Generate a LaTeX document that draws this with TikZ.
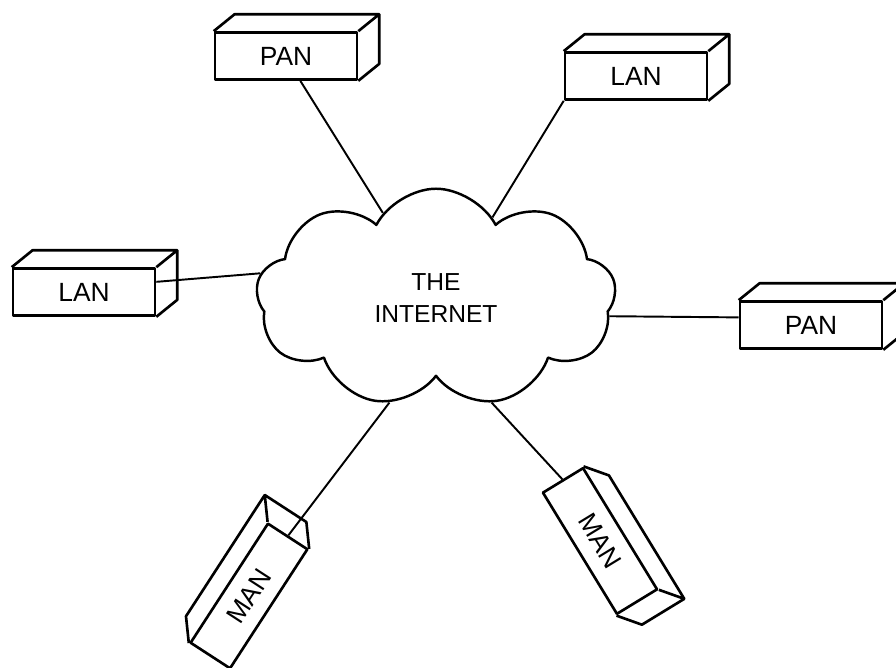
\documentclass[tikz,border=0pt]{standalone}
\usepackage{fontspec}
\setmainfont{Liberation Sans}
\usetikzlibrary{shapes.symbols,calc}

\begin{document}
\begin{tikzpicture}[x=0.02cm,y=-0.02cm,line join=round,
  netbox/.style={draw, fill=white, line width=1.5pt,
    minimum width=2.84cm, minimum height=0.94cm, inner sep=0pt,
    font=\fontsize{15}{17}\selectfont},
  boxside/.style={line width=1.5pt},
  wire/.style={line width=1.1pt},
  netcloud/.style={cloud, draw, line width=1.4pt, cloud puffs=9,
    cloud puff arc=125, minimum width=7.2cm, minimum height=3.75cm,
    align=center, font=\fontsize{14}{18}\selectfont}]
  \useasboundingbox (0,0) rectangle (896,668);
  \node[netcloud] (inet) at (436,298) {THE\\INTERNET};
  \node[netbox] (pan1) at (286,56) {PAN};
  \node[netbox] (lan2) at (636,76) {LAN};
  \node[netbox] (lan1) at (84,292) {LAN};
  \node[netbox] (pan2) at (811,325) {PAN};
  \node[netbox, rotate=57] (man1) at (249,596) {MAN};
  \node[netbox, rotate=-58.6] (man2) at (600,541) {MAN};
  % top and side faces
  \foreach \bx/\rt in {pan1/0, lan2/0, lan1/0, pan2/0, man1/57, man2/-58.6}
    \draw[boxside] (\bx.north west) -- ++(\rt+39:0.54cm)
      -- ($(\bx.north east)+(\rt+39:0.54cm)$)
      -- ($(\bx.south east)+(\rt+39:0.54cm)$) -- (\bx.south east)
      (\bx.north east) -- ++(\rt+39:0.54cm);
  % links to the cloud
  \draw[wire] (pan1.-60) -- (inet.122);
  \draw[wire] (lan2.south west) -- (inet.55);
  \draw[wire] (lan1.8) -- (inet.172);
  \draw[wire] (pan2.174) -- (inet.-6);
  \draw[wire] (man1.east) -- (inet.246);
  \draw[wire] (man2.west) -- (inet.-62);
\end{tikzpicture}
\end{document}
